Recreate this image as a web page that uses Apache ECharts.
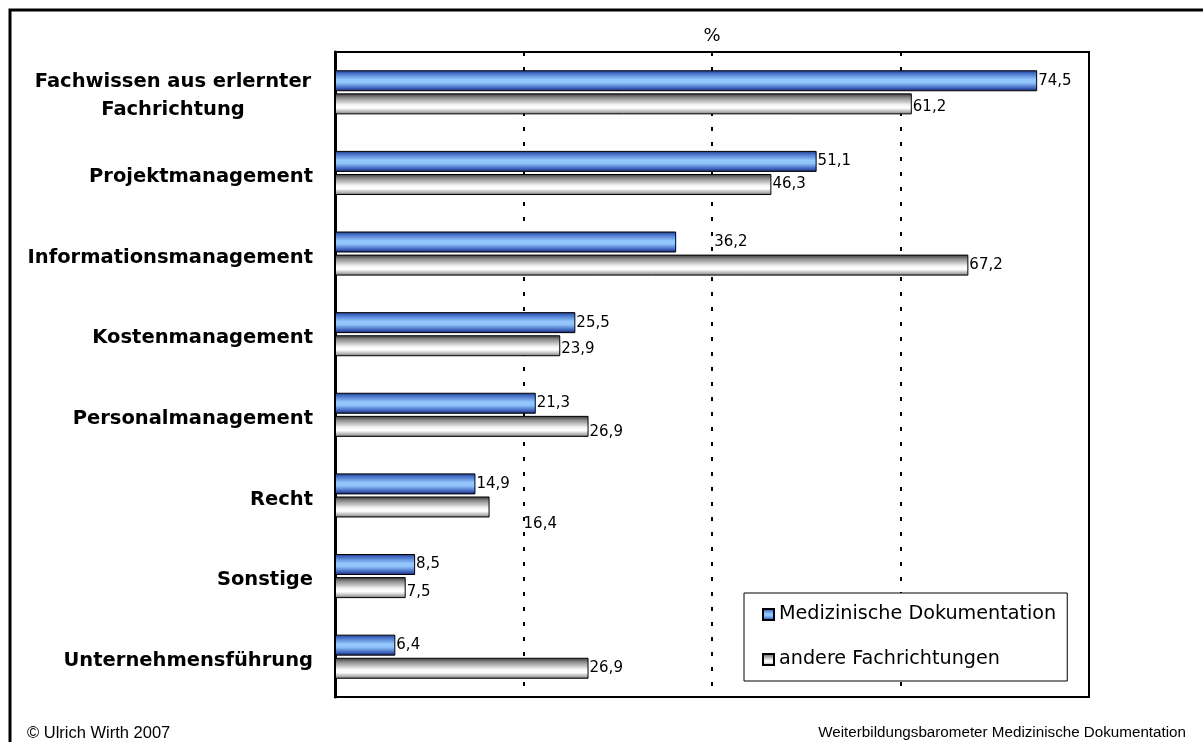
<!DOCTYPE html>
<html>
<head>
<meta charset="utf-8">
<script src="https://cdn.jsdelivr.net/npm/echarts@6/dist/echarts.min.js"></script>
<style>
  html, body { margin: 0; padding: 0; background: #fff; }
  #chart { width: 1203px; height: 742px; }
</style>
</head>
<body>
<div id="chart"></div>
<script>
// Weiterbildungsbedarf nach Themen (%)
const categories = [
  'Fachwissen aus erlernter\nFachrichtung',
  'Projektmanagement',
  'Informationsmanagement',
  'Kostenmanagement',
  'Personalmanagement',
  'Recht',
  'Sonstige',
  'Unternehmensführung'
];
const medDoku = [74.5, 51.1, 36.2, 25.5, 21.3, 14.9, 8.5, 6.4];
const andere = [61.2, 46.3, 67.2, 23.9, 26.9, 16.4, 7.5, 26.9];
const seriesNames = ['Medizinische Dokumentation', 'andere Fachrichtungen'];
const axisMax = 80;
const axisInterval = 20;

const FONT = '"DejaVu Sans", "Liberation Sans", Arial, sans-serif';
const FOOT_FONT = '"Liberation Sans", Arial, sans-serif';

const blueFill = new echarts.graphic.LinearGradient(0, 0, 0, 1, [
  { offset: 0, color: '#1e3580' },
  { offset: 0.15, color: '#4570c8' },
  { offset: 0.45, color: '#95c9fd' },
  { offset: 0.6, color: '#8fc3fa' },
  { offset: 0.85, color: '#3f62bd' },
  { offset: 1, color: '#14205a' }
]);
const greyFill = new echarts.graphic.LinearGradient(0, 0, 0, 1, [
  { offset: 0, color: '#333333' },
  { offset: 0.2, color: '#8a8a8a' },
  { offset: 0.55, color: '#f6f6f6' },
  { offset: 0.7, color: '#ffffff' },
  { offset: 0.9, color: '#a8a8a8' },
  { offset: 1, color: '#6a6a6a' }
]);

function fmt(v) { return String(v).replace('.', ','); }

// Individual label shifts where the value text sits away from the bar end
const labelShift = {
  0: { 2: [37, 0] },
  1: { 0: [0, 3], 3: [0, 3], 4: [0, 6], 5: [33, 17], 6: [0, 4] }
};

function buildData(values, sIdx) {
  return values.map((v, i) => {
    const d = { value: v };
    if (labelShift[sIdx] && labelShift[sIdx][i]) {
      d.label = { offset: labelShift[sIdx][i] };
    }
    return d;
  });
}

const labelStyle = {
  show: true,
  position: 'right',
  distance: 1,
  color: '#000',
  fontFamily: FONT,
  fontSize: 15,
  formatter: p => fmt(p.value)
};

const chart = echarts.init(document.getElementById('chart'), null, { renderer: 'canvas' });

chart.setOption({
  backgroundColor: '#fff',
  animation: false,
  grid: {
    left: 335, top: 52, width: 754, height: 645,
    show: true, borderColor: '#000', borderWidth: 2, backgroundColor: 'transparent'
  },
  xAxis: {
    type: 'value',
    position: 'top',
    min: 0, max: axisMax, interval: axisInterval,
    name: '%',
    nameLocation: 'middle',
    nameGap: 7,
    nameTextStyle: { color: '#000', fontFamily: FONT, fontSize: 18, verticalAlign: 'bottom' },
    axisLine: { show: true, lineStyle: { color: '#000', width: 2 } },
    axisTick: { show: false },
    axisLabel: { show: false },
    splitLine: { show: true, lineStyle: { color: '#000', width: 2, type: [4, 11] } }
  },
  yAxis: {
    type: 'category',
    data: categories,
    inverse: true,
    axisLine: { show: true, lineStyle: { color: '#000', width: 3 } },
    axisTick: { show: false },
    axisLabel: {
      margin: 22,
      padding: [8, 0, 0, 0],
      color: '#000',
      fontFamily: FONT,
      fontSize: 19.5,
      fontWeight: 'bold',
      lineHeight: 28,
      formatter: v => {
        if (v.indexOf('\n') >= 0) {
          return v.split('\n').map(s => '{c|' + s + '}').join('\n');
        }
        return v;
      },
      rich: {
        c: { width: 280, align: 'center', fontFamily: FONT, fontSize: 19.5, fontWeight: 'bold', color: '#000', lineHeight: 28 }
      }
    },
    splitLine: { show: false }
  },
  legend: {
    orient: 'vertical',
    left: 744, top: 593,
    padding: [12, 11, 12, 18],
    itemGap: 26,
    itemWidth: 11, itemHeight: 11,
    borderColor: '#000', borderWidth: 1,
    backgroundColor: '#fff',
    icon: 'rect',
    textStyle: { color: '#000', fontFamily: FONT, fontSize: 19.2 },
    data: seriesNames
  },
  series: [
    {
      name: seriesNames[0],
      type: 'bar',
      data: buildData(medDoku, 0),
      barWidth: 21,
      barGap: '10%',
      itemStyle: { color: blueFill, borderColor: '#000', borderWidth: 1 },
      label: labelStyle
    },
    {
      name: seriesNames[1],
      type: 'bar',
      data: buildData(andere, 1),
      barWidth: 21,
      itemStyle: { color: greyFill, borderColor: '#000', borderWidth: 1 },
      label: labelStyle
    }
  ],
  graphic: [
    {
      type: 'rect',
      shape: { x: 10, y: 10, width: 1300, height: 800 },
      style: { fill: 'none', stroke: '#000', lineWidth: 3 },
      silent: true
    },
    {
      type: 'text',
      left: 27, top: 725,
      style: { text: '© Ulrich Wirth 2007', fill: '#000', font: '16.5px ' + FOOT_FONT }
    },
    {
      type: 'text',
      right: 17, top: 725,
      style: { text: 'Weiterbildungsbarometer Medizinische Dokumentation', fill: '#000', font: '15.2px ' + FOOT_FONT }
    }
  ]
});
</script>
</body>
</html>
